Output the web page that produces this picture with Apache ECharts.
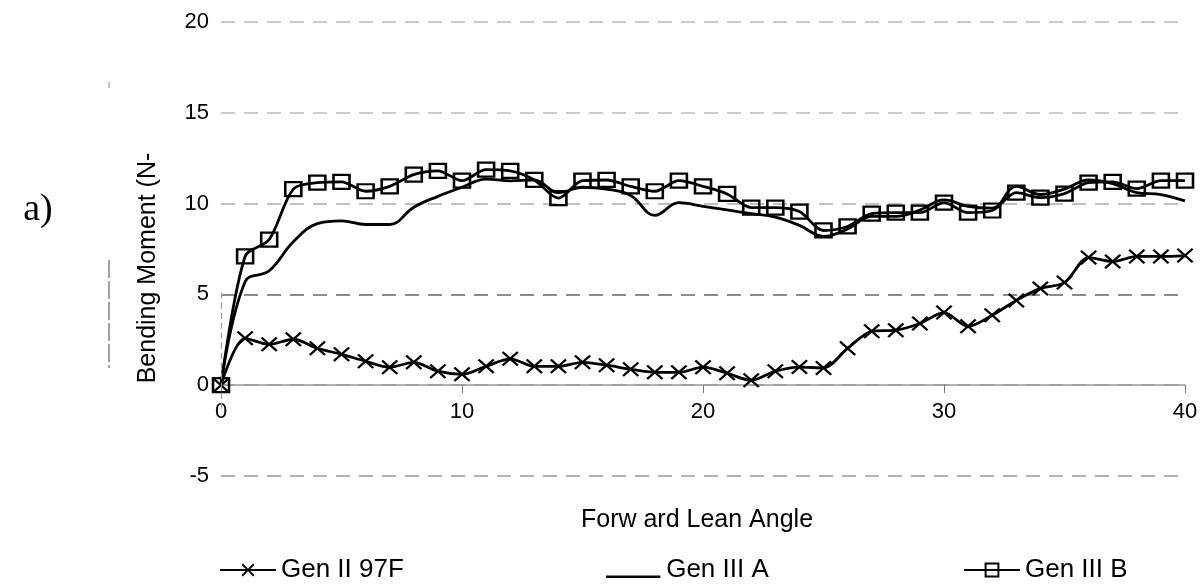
<!DOCTYPE html>
<html>
<head>
<meta charset="utf-8">
<script src="https://cdn.jsdelivr.net/npm/echarts@6/dist/echarts.min.js"></script>
<style>
html,body{margin:0;padding:0;background:#fff;}
#chart{width:1202px;height:584px;}
</style>
</head>
<body>
<div id="chart"></div>
<script>
// ---- data ----
const angles = [0,1,2,3,4,5,6,7,8,9,10,11,12,13,14,15,16,17,18,19,20,21,22,23,24,25,26,27,28,29,30,31,32,33,34,35,36,37,38,39,40];
const genII97F = [0,2.58,2.25,2.53,2.03,1.7,1.32,0.99,1.26,0.77,0.6,1.04,1.45,1.04,1.04,1.26,1.1,0.88,0.71,0.71,0.99,0.66,0.27,0.77,1.0,0.95,2.03,2.97,3.03,3.4,4.0,3.24,3.85,4.67,5.33,5.65,7.03,6.81,7.09,7.09,7.14];
const genIIIA = [0,5.7,6.3,7.9,8.9,9.05,8.85,8.85,9.8,10.4,10.9,11.35,11.25,11.3,10.6,10.9,10.8,10.45,9.35,10.05,9.85,9.65,9.45,9.25,8.8,8.2,8.6,9.3,9.3,9.65,10.2,9.85,9.75,10.95,10.5,10.8,11.3,11.1,10.6,10.5,10.15];
const genIIIB = [0,7.09,8.02,10.8,11.15,11.2,10.68,10.95,11.6,11.8,11.26,11.87,11.8,11.3,10.3,11.26,11.3,10.95,10.68,11.26,10.95,10.53,9.78,9.78,9.56,8.52,8.74,9.45,9.5,9.5,10.05,9.5,9.62,10.6,10.33,10.55,11.15,11.2,10.82,11.26,11.26];
const seriesNames = ['Gen II 97F','Gen III A','Gen III B'];
const xTitle = 'Forw ard Lean Angle';
const yTitle = 'Bending Moment (N-';
const panelLabel = 'a)';

const pair = ys => angles.map((x,i)=>[x, ys[i]]);
const FONT = "'Liberation Sans', Arial, sans-serif";
const X_PATH = 'path://M2,0 L10,8 L18,0 L20,2 L12,10 L20,18 L18,20 L10,12 L2,20 L0,18 L8,10 L0,2 Z';
const LOW_LINE = 'path://M0,0 L0.01,0 L0.01,0.01 Z M0,14 L56,14 L56,16.5 L0,16.5 Z';

const chart = echarts.init(document.getElementById('chart'));
const legendBase = {
  orient:'horizontal', itemWidth:56, itemHeight:16, itemGap:8,
  textStyle:{fontFamily:FONT, fontSize:26, color:'#000'}, top:552
};
chart.setOption({
  animation:false,
  backgroundColor:'#fff',
  grid:{left:221, right:17, top:22, bottom:108, containLabel:false},
  xAxis:{
    type:'value', min:0, max:40, interval:10, position:'bottom', offset:-91,
    axisLine:{show:true, onZero:false, lineStyle:{color:'#999', width:1.5}},
    axisTick:{show:true, length:8, lineStyle:{color:'#777'}},
    axisLabel:{fontFamily:FONT, fontSize:22, color:'#000', margin:16},
    splitLine:{show:false}
  },
  yAxis:{
    type:'value', min:-5, max:20, interval:5,
    axisLine:{show:false}, axisTick:{show:false},
    axisLabel:{fontFamily:FONT, fontSize:22, color:'#000', margin:12},
    splitLine:{show:true, lineStyle:{type:[14,9], width:1.5,
      color:['#999','#999','#666','#aaa','#bbb','#bbb']}}
  },
  legend:[
    Object.assign({}, legendBase, {left:214, data:[seriesNames[0]]}),
    Object.assign({}, legendBase, {left:601, data:[{name:seriesNames[1], icon:LOW_LINE}]}),
    Object.assign({}, legendBase, {left:958, data:[seriesNames[2]]})
  ],
  graphic:[
    {type:'text', x:38, y:210, style:{text:panelLabel, font:"38px 'Liberation Serif', 'Times New Roman', serif", fill:'#000', textAlign:'center', textVerticalAlign:'middle'}},
    {type:'text', x:148, y:268, rotation:Math.PI/2, style:{text:yTitle, font:"25px "+FONT, fill:'#000', textAlign:'center', textVerticalAlign:'middle'}},
    {type:'text', x:697, y:520, style:{text:xTitle, font:"25px "+FONT, fill:'#000', textAlign:'center', textVerticalAlign:'middle'}},
    {type:'line', shape:{x1:109, y1:260, x2:109, y2:368}, style:{stroke:'#666', lineWidth:1.2, lineDash:[18,3]}},
    {type:'line', shape:{x1:109, y1:82, x2:109, y2:88}, style:{stroke:'#888', lineWidth:1}}
  ],
  series:[
    {name:seriesNames[0], type:'line', smooth:0.3, data:pair(genII97F),
      symbol:X_PATH, symbolSize:[17,15], showAllSymbol:true,
      lineStyle:{color:'#000', width:2.8}, itemStyle:{color:'#000'},
      markLine:{silent:true, symbol:'none', label:{show:false},
        lineStyle:{color:'#999', type:[6,4], width:1.2},
        data:[[{coord:[0,-1.3]},{coord:[0,5.2]}]]}},
    {name:seriesNames[1], type:'line', smooth:0.4, data:pair(genIIIA),
      showSymbol:false, symbol:'none',
      lineStyle:{color:'#000', width:2.8}, itemStyle:{color:'#000'}},
    {name:seriesNames[2], type:'line', smooth:0.3, data:pair(genIIIB),
      symbol:'rect', symbolSize:[16,14], showAllSymbol:true,
      lineStyle:{color:'#000', width:2.8},
      itemStyle:{color:'rgba(255,255,255,0)', borderColor:'#000', borderWidth:2.4}}
  ]
});
</script>
</body>
</html>
